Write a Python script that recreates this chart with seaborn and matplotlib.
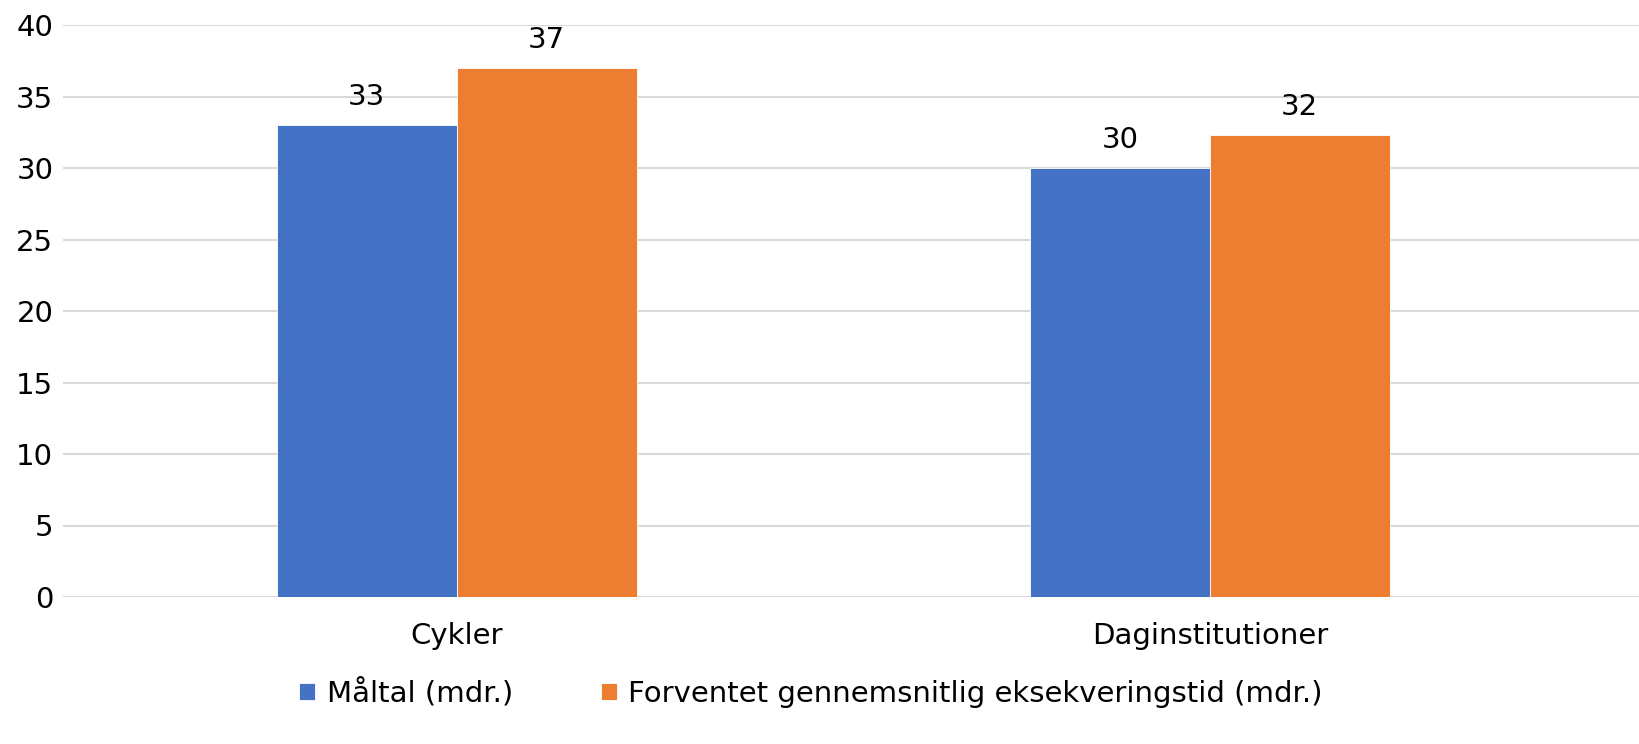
import matplotlib
matplotlib.use("Agg")
import matplotlib.pyplot as plt
import seaborn as sns
import pandas as pd

# Data
categories = ["Cykler", "Daginstitutioner"]
series = ["Måltal (mdr.)", "Forventet gennemsnitlig eksekveringstid (mdr.)"]
maaltal = [33, 30]
forventet = [37, 32.3]
yticks = [0, 5, 10, 15, 20, 25, 30, 35, 40]

df = pd.DataFrame({
    "kategori": categories * 2,
    "serie": [series[0]] * len(categories) + [series[1]] * len(categories),
    "vaerdi": maaltal + forventet,
})

sns.set_theme(style="white")
plt.rcParams["font.family"] = ["DejaVu Sans"]
plt.rcParams["text.color"] = "black"
fs = 21

fig = plt.figure(figsize=(16.39, 7.44), dpi=100)
ax = fig.add_axes([63 / 1639, (744 - 597) / 744, 1 - 63 / 1639, (597 - 25) / 744])

sns.barplot(data=df, x="kategori", y="vaerdi", hue="serie", hue_order=series,
            palette=["#4472C4", "#ED7D31"], saturation=1, width=0.478, gap=0,
            edgecolor="white", linewidth=0.6, ax=ax, zorder=3)

for cont in ax.containers:
    ax.bar_label(cont, fmt="%.0f", padding=10, fontsize=fs, color="black")

ax.set_ylim(0, 40)
ax.set_xlim(-0.523, 1.57)
ax.set_yticks(yticks)
ax.yaxis.grid(True, color="#d9d9d9", linewidth=1.5, zorder=0)
ax.set_axisbelow(True)
for s in ax.spines.values():
    s.set_visible(False)
ax.set_xlabel("")
ax.set_ylabel("")
ax.tick_params(axis="both", length=0, labelsize=fs, colors="black")
ax.tick_params(axis="y", pad=7)
ax.tick_params(axis="x", pad=18)

handles, labels = ax.get_legend_handles_labels()
leg = ax.legend(handles, labels, loc="center", bbox_to_anchor=(811 / 1639, 51 / 744),
                bbox_transform=fig.transFigure, ncol=2, frameon=False, fontsize=fs,
                handlelength=0.55, handleheight=0.55, handletextpad=0.4, columnspacing=3.0)
for t in leg.get_texts():
    t.set_color("black")

fig.savefig("out.png", dpi=100)
